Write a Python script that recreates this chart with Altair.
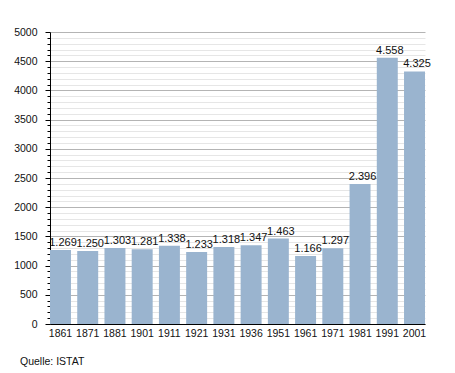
import altair as alt
import pandas as pd

years = ["1861", "1871", "1881", "1901", "1911", "1921", "1931", "1936",
         "1951", "1961", "1971", "1981", "1991", "2001"]
population = [1269, 1250, 1303, 1281, 1338, 1233, 1318, 1347,
              1463, 1166, 1297, 2396, 4558, 4325]
labels = ["1.269", "1.250", "1.303", "1.281", "1.338", "1.233", "1.318", "1.347",
          "1.463", "1.166", "1.297", "2.396", "4.558", "4.325"]
source_note = ["Quelle: ISTAT"]

df = pd.DataFrame({"year": years, "pop": population, "label": labels})
FONT = "Liberation Sans"

x = alt.X("year:N", sort=years, title=None,
          scale=alt.Scale(paddingInner=0.23, paddingOuter=0.0),
          axis=alt.Axis(labelAngle=0, ticks=False, domainColor="black",
                        labelFont=FONT, labelFontSize=10.5, labelColor="#111",
                        labelPadding=4))
y = alt.Y("pop:Q", title=None,
          scale=alt.Scale(domain=[0, 5000], nice=False),
          axis=alt.Axis(values=list(range(0, 5001, 100)),
                        tickCount=100,
                        labelOverlap=False,
                        labelExpr="datum.value % 500 === 0 ? datum.value : ''",
                        gridColor=alt.condition("datum.value % 500 === 0",
                                                alt.value("#b4b4b4"), alt.value("#e6e6e6")),
                        tickSize=alt.condition("datum.value % 500 === 0",
                                               alt.value(5), alt.value(3)),
                        tickColor="black", domainColor="black",
                        labelFont=FONT, labelFontSize=10.5, labelColor="#111",
                        labelPadding=8))

bars = alt.Chart(df).mark_bar(color="#9ab4cf").encode(x=x, y=y)
text = alt.Chart(df).mark_text(baseline="bottom", dy=-2, dx=2.5, font=FONT, fontSize=11,
                               color="#111").encode(x=alt.X("year:N", sort=years),
                                                    y="pop:Q", text="label:N")
note = alt.Chart(pd.DataFrame({"t": source_note})).mark_text(
    align="left", baseline="middle", font=FONT, fontSize=10.5, color="#111"
).encode(x=alt.value(-30), y=alt.value(330), text="t:N")

chart = alt.layer(bars, text, note).properties(
    width=375, height=292,
    autosize=alt.AutoSizeParams(type="none"),
    padding={"left": 42, "top": 24, "right": 20, "bottom": 50},
).configure_view(stroke=None).configure_axis(gridWidth=1)

chart.save("out.html", embed_options={"renderer": "svg", "actions": False})
